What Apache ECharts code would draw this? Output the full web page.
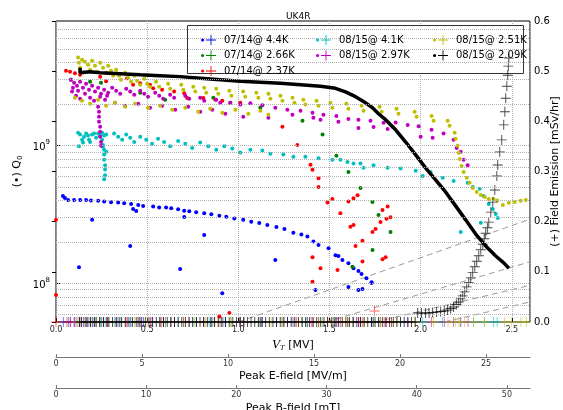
<!DOCTYPE html>
<html>
<head>
<meta charset="UTF-8">
<title>UK4R</title>
<script src="https://cdn.jsdelivr.net/npm/echarts@6/dist/echarts.min.js"></script>
<style>
  body { margin: 0; background: #fff; }
  #chart { width: 563px; height: 410px; }
</style>
</head>
<body>
<div id="chart"></div>
<script>
// Q0 values are written in units of 1e9, V_T in MV, field emission in mSv/hr
var names = ['07/14@ 4.4K', '07/14@ 2.66K', '07/14@ 2.37K', '08/15@ 4.1K', '08/15@ 2.97K', '08/15@ 2.51K', '08/15@ 2.09K'];
var colors = ['#0000ff', '#008000', '#ff0000', '#00bfbf', '#bf00bf', '#bfbf00', '#000000'];

var blueQ = [[0.038,0.431],[0.049,0.417],[0.066,0.403],[0.099,0.403],[0.132,0.403],[0.165,0.403],[0.192,0.399],[0.231,0.397],
  [0.264,0.393],[0.302,0.388],[0.341,0.386],[0.374,0.381],[0.412,0.377],[0.451,0.371],[0.478,0.365],[0.533,0.361],[0.566,0.355],
  [0.604,0.355],[0.632,0.351],[0.670,0.345],[0.703,0.337],[0.731,0.333],[0.769,0.328],[0.813,0.323],[0.852,0.317],[0.896,0.310],
  [0.934,0.305],[0.978,0.296],[1.027,0.289],[1.071,0.280],[1.115,0.274],[1.159,0.265],[1.209,0.256],[1.253,0.248],[1.302,0.233],
  [1.346,0.226],[1.379,0.219],[1.412,0.201],[1.440,0.190],[1.495,0.180],[1.533,0.160],[1.549,0.158],[1.571,0.148],[1.604,0.140],
  [1.632,0.129],[1.659,0.123],[1.676,0.117],[1.703,0.109],[1.731,0.102],
  [0.198,0.289],[0.126,0.131],[0.407,0.187],[0.423,0.346],[0.440,0.335],[0.703,0.303],[0.813,0.224],[0.681,0.127],[0.912,0.085],
  [1.203,0.148],[1.423,0.0895],[1.604,0.0942],[1.659,0.0895],[1.681,0.091],[1.731,0.1007]];

var greenQ = [[0.082,3.00],[0.187,2.90],[0.247,2.85],[0.462,2.41],[0.599,2.15],[0.863,2.22],[0.956,2.04],[1.121,1.89],
  [1.352,1.51],[1.462,1.20],[1.538,0.842],[1.604,0.644],[1.670,0.493],[1.736,0.390],[1.769,0.314],[1.835,0.236],[1.736,0.175],[1.626,0.132]];

var redQ = [[0.0,0.289],[0.0,0.0823],[0.055,3.49],[0.077,3.43],[0.104,3.35],[0.132,3.26],[0.242,3.15],[0.275,2.92],[0.390,3.07],
  [0.423,2.76],[0.462,2.83],[0.516,2.76],[0.533,2.60],[0.582,2.54],[0.648,2.46],[0.703,2.39],[0.720,2.21],[0.808,2.21],[0.874,2.15],
  [0.912,2.11],[1.011,2.04],[1.242,1.37],[1.324,1.01],[1.396,0.724],[1.407,0.666],[1.440,0.580],[1.440,0.500],[1.489,0.387],
  [1.516,0.410],[1.560,0.323],[1.604,0.392],[1.632,0.415],[1.654,0.435],[1.615,0.258],[1.632,0.265],[1.643,0.187],[1.681,0.204],
  [1.681,0.144],[1.736,0.236],[1.753,0.248],[1.780,0.279],[1.813,0.294],[1.835,0.302],[1.791,0.341],[1.819,0.361],[1.791,0.150],
  [1.808,0.155],[1.407,0.155],[1.451,0.129],[1.407,0.103],[1.544,0.125],[0.896,0.0575],[0.951,0.061]];

var cyanQ = [[0.121,1.24],[0.132,1.20],[0.143,1.10],[0.154,1.16],[0.165,1.22],[0.176,1.18],[0.187,1.06],[0.198,1.20],[0.209,1.22],
  [0.220,1.14],[0.231,1.22],[0.242,1.18],[0.253,1.24],[0.264,1.18],[0.275,1.20],[0.253,1.10],[0.258,1.01],[0.264,0.93],[0.264,0.86],
  [0.264,0.79],[0.269,0.72],[0.269,0.67],[0.269,0.61],[0.264,0.57],[0.258,0.98],[0.275,0.90],[0.126,0.99],[0.148,1.05],[0.181,1.10],
  [0.319,1.22],[0.341,1.16],[0.363,1.10],[0.385,1.20],[0.407,1.14],[0.429,1.06],[0.462,1.16],[0.495,1.10],[0.527,1.03],[0.560,1.12],
  [0.593,1.06],[0.626,0.99],[0.670,1.08],[0.709,1.03],[0.747,0.96],[0.791,1.05],[0.835,0.99],[0.879,0.93],[0.923,0.99],[0.967,0.95],
  [1.011,0.89],[1.066,0.93],[1.132,0.92],[1.176,0.87],[1.247,0.86],[1.302,0.83],[1.368,0.83],[1.440,0.81],[1.516,0.79],[1.560,0.79],
  [1.599,0.76],[1.632,0.74],[1.670,0.74],[1.687,0.69],[1.742,0.72],[1.819,0.69],[1.890,0.68],[1.973,0.655],[2.011,0.60],[2.055,0.644],
  [2.121,0.583],[2.181,0.554],[2.258,0.536],[2.286,0.50],[2.324,0.485],[2.346,0.431],[2.374,0.377],[2.396,0.347],[2.412,0.319],
  [2.423,0.298],[2.330,0.275],[2.220,0.236]];

var magentaQ = [[0.082,3.00],[0.099,2.85],[0.115,2.71],[0.132,2.90],[0.148,2.62],[0.165,2.81],[0.181,2.54],[0.198,2.71],[0.214,2.46],
  [0.231,2.62],[0.247,2.37],[0.264,2.54],[0.280,2.30],[0.088,2.46],[0.110,2.30],[0.132,2.18],[0.159,2.37],[0.187,2.22],[0.209,2.11],
  [0.242,2.26],[0.269,2.15],[0.286,2.41],[0.093,2.62],[0.121,2.50],
  [0.231,1.91],[0.236,1.76],[0.236,1.62],[0.236,1.49],[0.242,1.37],[0.242,1.26],[0.242,1.16],[0.247,1.06],[0.247,0.995],
  [0.308,2.62],[0.330,2.50],[0.352,2.37],[0.385,2.58],[0.407,2.46],[0.429,2.33],[0.462,2.50],[0.484,2.37],[0.505,2.26],[0.544,2.41],
  [0.566,2.30],[0.588,2.18],[0.626,2.33],[0.648,2.22],[0.709,2.30],[0.731,2.18],[0.791,2.22],[0.813,2.11],[0.879,2.15],[0.901,2.04],
  [0.956,2.04],[1.011,1.98],[1.066,2.03],[1.132,1.96],[1.203,1.88],[1.269,1.82],[1.341,1.79],[1.407,1.73],[1.467,1.67],[1.538,1.64],
  [1.604,1.56],[1.659,1.54],[1.725,1.51],[1.797,1.46],[1.863,1.47],[1.929,1.41],[1.989,1.38],[2.060,1.30],[2.126,1.22],[2.181,1.10],
  [2.198,0.96],[2.220,0.90],[2.236,0.79],[2.258,0.72],
  [0.324,2.04],[0.379,1.94],[0.451,2.01],[0.516,1.88],[0.582,1.94],[0.654,1.82],[0.725,1.91],[0.791,1.76],[0.857,1.82],[0.929,1.70],
  [1.027,1.62],[1.165,1.59],[1.297,1.67],[1.412,1.59],[1.451,1.54],[1.549,1.49],[1.659,1.34],[1.742,1.36],[1.819,1.32],[1.846,1.37],
  [2.000,1.16],[2.066,1.14]];

var yellowQ = [[0.121,4.34],[0.126,3.99],[0.132,3.67],[0.143,4.19],[0.159,4.05],[0.176,3.86],[0.187,3.55],[0.198,4.12],[0.214,3.79],
  [0.225,3.43],[0.242,3.99],[0.258,3.67],[0.275,3.37],[0.286,3.79],[0.302,3.49],[0.313,3.21],[0.330,3.55],[0.346,3.21],[0.357,3.00],
  [0.379,3.37],[0.396,3.10],[0.412,2.90],[0.429,3.21],[0.445,2.95],[0.462,2.76],[0.484,3.05],[0.500,2.81],[0.516,2.67],[0.549,2.90],
  [0.566,2.67],[0.615,2.81],[0.626,2.58],[0.687,2.76],[0.698,2.54],[0.753,2.67],[0.764,2.46],[0.813,2.62],[0.824,2.41],[0.879,2.58],
  [0.890,2.37],[0.951,2.50],[0.962,2.30],[1.027,2.46],[1.038,2.26],[1.099,2.41],[1.110,2.22],[1.165,2.37],[1.176,2.18],[1.231,2.30],
  [1.242,2.11],[1.297,2.22],[1.308,2.04],[1.357,2.15],[1.368,1.98],[1.429,2.11],[1.440,1.94],[1.505,2.04],[1.516,1.88],[1.593,2.01],
  [1.604,1.85],[1.676,1.94],[1.687,1.79],[1.775,1.91],[1.786,1.76],[1.868,1.85],[1.879,1.70],[1.967,1.76],[1.978,1.62],[2.060,1.64],
  [2.071,1.51],[2.148,1.51],[2.159,1.39],[2.187,1.24],[2.192,1.12],[2.203,0.995],[2.209,0.885],[2.214,0.80],[2.225,0.71],[2.236,0.644],
  [2.253,0.583],[2.269,0.536],[2.286,0.493],[2.308,0.461],[2.330,0.438],[2.352,0.424],[2.374,0.41],[2.40,0.41],[2.42,0.40],
  [2.451,0.371],[2.484,0.384],[2.516,0.390],[2.549,0.397],[2.577,0.403],
  [0.104,2.22],[0.143,2.11],[0.187,2.01],[0.231,2.15],[0.275,1.94],[0.324,2.04],[0.379,1.91],[0.434,2.01],[0.505,1.88],[0.571,1.94],
  [0.637,1.82],[0.709,1.88],[0.780,1.76],[0.846,1.85],[0.912,1.73],[0.984,1.82],[1.055,1.70],[1.121,1.79],[1.165,1.67]];

var blackQ = [[0.132,3.66],[0.132,3.37],[0.187,3.43],[0.242,3.37],[0.352,3.32],[0.462,3.26],[0.571,3.21],[0.681,3.16],[0.791,3.08],
  [0.901,3.00],[1.011,2.92],[1.121,2.88],[1.231,2.83],[1.341,2.76],[1.451,2.69],[1.533,2.60],[1.588,2.45],[1.643,2.26],[1.698,2.04],
  [1.736,1.88],[1.769,1.70],[1.808,1.54],[1.863,1.30],[1.918,1.06],[1.973,0.855],[2.027,0.688],[2.082,0.564],[2.137,0.461],
  [2.192,0.365],[2.247,0.289],[2.302,0.228],[2.357,0.187],[2.412,0.158],[2.456,0.141],[2.484,0.129]];

// field emission readings (right axis)
var blueFE = [[0.04,0],[0.07,0],[0.10,0],[0.13,0],[0.17,0],[0.20,0],[0.26,0],[0.34,0],[0.41,0],[0.48,0],[0.57,0],[0.63,0],[0.70,0],
  [0.77,0],[0.85,0],[0.93,0],[1.03,0],[1.12,0],[1.21,0],[1.30,0],[1.38,0],[1.44,0],[1.53,0],[1.60,0],[1.66,0],[1.73,0]];
var greenFE = [[0.08,0],[0.19,0],[0.25,0],[0.46,0],[0.60,0],[0.86,0],[0.96,0],[1.12,0],[1.35,0],[1.46,0],[1.54,0],[1.60,0],[1.67,0],
  [1.74,0],[1.77,0],[1.84,0]];
var redFE = [[0.0,0],[0.06,0],[0.10,0],[0.13,0],[0.24,0],[0.28,0],[0.39,0],[0.46,0],[0.52,0],[0.58,0],[0.65,0],[0.70,0],[0.81,0],
  [0.87,0],[0.91,0],[1.01,0],[1.24,0],[1.32,0],[1.40,0],[1.44,0],[1.49,0],[1.52,0],[1.56,0],[1.60,0],[1.63,0],[1.66,0],[1.68,0],
  [1.74,0],[1.78,0],[1.81,0],[1.84,0],[1.747,0.022]];
var cyanFE = [[0.12,0],[0.15,0],[0.19,0],[0.22,0],[0.25,0],[0.27,0],[0.32,0],[0.36,0],[0.41,0],[0.46,0],[0.53,0],[0.59,0],[0.67,0],
  [0.75,0],[0.84,0],[0.92,0],[1.01,0],[1.13,0],[1.25,0],[1.37,0],[1.52,0],[1.63,0],[1.74,0],[1.89,0],[2.01,0],[2.12,0],[2.22,0],
  [2.29,0],[2.35,0],[2.40,0],[2.42,0]];
var magentaFE = [[0.08,0],[0.11,0],[0.15,0],[0.18,0],[0.21,0],[0.24,0],[0.28,0],[0.33,0],[0.39,0],[0.46,0],[0.52,0],[0.59,0],[0.65,0],
  [0.73,0],[0.81,0],[0.90,0],[1.01,0],[1.13,0],[1.27,0],[1.41,0],[1.54,0],[1.66,0],[1.80,0],[1.93,0],[2.06,0],[2.13,0],[2.18,0],
  [2.22,0],[2.26,0]];
var yellowFE = [[0.12,0],[0.14,0],[0.18,0],[0.21,0],[0.24,0],[0.29,0],[0.33,0],[0.38,0],[0.43,0],[0.50,0],[0.57,0],[0.63,0],[0.70,0],
  [0.76,0],[0.82,0],[0.89,0],[0.96,0],[1.03,0],[1.11,0],[1.18,0],[1.24,0],[1.31,0],[1.37,0],[1.44,0],[1.52,0],[1.60,0],[1.69,0],
  [1.78,0],[1.87,0],[1.97,0],[2.07,0],[2.15,0],[2.19,0],[2.21,0],[2.24,0],[2.29,0],[2.35,0],[2.46,0],[2.50,0],[2.55,0],[2.58,0]];
var blackFE = [[0.13,0],[0.14,0],[0.16,0],[0.17,0],[0.19,0],[0.21,0],[0.22,0],[0.24,0],[0.26,0],[0.28,0],[0.29,0],[0.31,0],[0.33,0],
  [0.35,0],[0.36,0],[0.38,0],[0.40,0],[0.42,0],[0.44,0],[0.45,0],[0.47,0],[0.49,0],[0.51,0],[0.53,0],[0.55,0],[0.57,0],[0.59,0],
  [0.61,0],[0.63,0],[0.65,0],[0.67,0],[0.69,0],[0.71,0],[0.73,0],[0.75,0],[0.77,0],[0.79,0],[0.81,0],[0.83,0],[0.85,0],[0.87,0],
  [0.89,0],[0.91,0],[0.93,0],[0.95,0],[0.97,0],[0.99,0],[1.01,0],[1.03,0],[1.05,0],[1.07,0],[1.09,0],[1.11,0],[1.13,0],[1.15,0],
  [1.17,0],[1.19,0],[1.21,0],[1.23,0],[1.25,0],[1.27,0],[1.29,0],[1.31,0],[1.33,0],[1.35,0],[1.37,0],[1.39,0],[1.41,0],[1.43,0],
  [1.45,0],[1.47,0],[1.49,0],[1.51,0],[1.53,0],[1.55,0],[1.57,0],[1.59,0],[1.61,0],[1.63,0],[1.65,0],[1.67,0],[1.69,0],[1.71,0],
  [1.73,0],[1.75,0],[1.77,0],[1.79,0],[1.81,0],[1.83,0],[1.85,0],[1.87,0],[1.89,0],[1.91,0],[1.93,0],[1.95,0],[1.97,0],
  [1.984,0.018],[2.005,0.018],[2.027,0.018],[2.046,0.018],[2.066,0.019],[2.088,0.020],[2.110,0.021],[2.130,0.022],[2.148,0.024],
  [2.165,0.027],[2.181,0.030],[2.196,0.035],[2.209,0.040],[2.220,0.046],[2.231,0.052],[2.242,0.060],[2.253,0.070],
  [2.264,0.079],[2.275,0.088],[2.286,0.099],[2.297,0.110],[2.308,0.121],[2.319,0.132],[2.330,0.144],[2.341,0.155],[2.349,0.166],
  [2.357,0.177],[2.366,0.188],[2.374,0.199],[2.385,0.219],[2.396,0.239],[2.407,0.263],
  [2.418,0.291],[2.423,0.313],[2.434,0.339],[2.445,0.363],[2.456,0.393],[2.462,0.419],[2.467,0.446],[2.473,0.470],[2.478,0.492],
  [2.481,0.510],[2.484,0.526]];

// grey dashed guide lines on the field emission axis
var guide1 = [[1.00,0],[2.6,0.205]];
var guide2 = [[1.48,0],[2.6,0.120]];
var guide3 = [[1.75,0],[2.6,0.073]];
var guide4 = [[2.13,0],[2.6,0.040]];

// log grid positions of the Q0 axis
var gridQ = [6e7,7e7,8e7,9e7,1e8,2e8,3e8,4e8,5e8,6e8,7e8,8e8,9e8,1e9,2e9,3e9,4e9,5e9,6e9,7e9];

var qSets = [blueQ, greenQ, redQ, cyanQ, magentaQ, yellowQ, blackQ];
var feSets = [blueFE, greenFE, redFE, cyanFE, magentaFE, yellowFE, blackFE];
var guides = [guide1, guide2, guide3, guide4];

var plusPath = 'path://M0,4.55L10,4.55L10,5.45L0,5.45Z M4.55,0L5.45,0L5.45,10L4.55,10Z';
var legendIcon = 'path://M0,5A1.6,1.6 0 1,1 3.2,5A1.6,1.6 0 1,1 0,5Z M5,4.55L15,4.55L15,5.45L5,5.45Z M9.55,0L10.45,0L10.45,10L9.55,10Z';

var chart = echarts.init(document.getElementById('chart'));

var series = [];
series.push({
    type: 'scatter', data: [], silent: true, z: 1,
    markLine: {
        silent: true, symbol: 'none', animation: false,
        label: {show: false},
        lineStyle: {color: '#b0b0b0', type: 'dotted', width: 1},
        data: gridQ.map(function (v) { return {yAxis: v}; })
    }
});
guides.forEach(function (g) {
    series.push({
        type: 'line', xAxisIndex: 0, yAxisIndex: 1, data: g, symbol: 'none', silent: true, z: 1,
        lineStyle: {color: '#999', width: 1, type: [6, 4]}
    });
});
for (var i = 0; i < 7; i++) {
    var d = qSets[i].map(function (p) { return [p[0], p[1] * 1e9]; });
    if (i == 6) {
        series.push({
            name: names[i], type: 'line', yAxisIndex: 0, data: d, symbol: 'none', z: 3,
            itemStyle: {color: colors[i]},
            lineStyle: {color: colors[i], width: 3.5}
        });
    } else {
        series.push({
            name: names[i], type: 'scatter', yAxisIndex: 0, data: d, symbolSize: 4, z: 2,
            itemStyle: {color: colors[i], opacity: 1}
        });
    }
}
for (var i = 0; i < 7; i++) {
    series.push({
        name: names[i], type: 'scatter', yAxisIndex: 1, data: feSets[i], symbol: plusPath, symbolSize: 10, z: 4,
        itemStyle: {color: colors[i], opacity: i == 6 ? 0.75 : 0.6}
    });
}

var legendBase = {
    orient: 'vertical', top: 29, itemWidth: 15, itemHeight: 10, itemGap: 3.5, z: 6,
    icon: legendIcon, selectedMode: false,
    textStyle: {fontSize: 10, color: '#000', lineHeight: 12, padding: [0, 0, 0, 3], fontFamily: 'DejaVu Sans'}
};

var option = {
    animation: false,
    textStyle: {fontFamily: 'DejaVu Sans'},
    title: {
        text: 'UK4R', left: 281, top: 7,
        textStyle: {fontSize: 9, fontWeight: 'normal', color: '#000', fontFamily: 'DejaVu Sans'}
    },
    grid: {left: 56, right: 33, top: 21, bottom: 88, outerBoundsMode: 'none',
        show: true, borderColor: '#000', borderWidth: 1, backgroundColor: 'rgba(0,0,0,0)'},
    graphic: [{
        type: 'rect', z: 3, silent: true,
        shape: {x: 187.5, y: 25.5, width: 336, height: 48},
        style: {fill: '#fff', stroke: '#333', lineWidth: 1}
    }],
    legend: [
        Object.assign({}, legendBase, {left: 196, data: names.slice(0, 3)}),
        Object.assign({}, legendBase, {left: 311, data: names.slice(3, 5)}),
        Object.assign({}, legendBase, {left: 428, data: names.slice(5, 7)})
    ],
    xAxis: [{
        type: 'value', min: 0, max: 2.6, interval: 0.5, position: 'bottom',
        name: '{i|V}{s|T} [MV]', nameLocation: 'middle', nameGap: 17, nameMoveOverlap: false,
        nameTextStyle: {fontSize: 11, color: '#000', rich: {
            i: {fontSize: 11, fontStyle: 'italic', fontFamily: 'DejaVu Serif'},
            s: {fontSize: 7, fontStyle: 'italic', fontFamily: 'DejaVu Serif', verticalAlign: 'bottom', padding: [6, 0, 0, 0]}
        }},
        axisLine: {show: false, onZero: false},
        axisTick: {inside: true, length: 4, lineStyle: {color: '#000'}},
        axisLabel: {fontSize: 8, color: '#222', margin: 4, showMaxLabel: false,
            formatter: function (v) { return v.toFixed(1); }},
        splitLine: {show: true, lineStyle: {color: '#b0b0b0', type: 'dotted', width: 1}}
    }, {
        type: 'value', min: 0, max: 27.56, interval: 5, position: 'bottom', offset: 35,
        name: 'Peak E-field [MV/m]', nameLocation: 'middle', nameGap: 14, nameMoveOverlap: false,
        nameTextStyle: {fontSize: 11, color: '#000'},
        axisLine: {show: true, onZero: false, lineStyle: {color: '#777'}},
        axisTick: {inside: true, length: 3, lineStyle: {color: '#777'}},
        axisLabel: {fontSize: 8, color: '#333', margin: 3, showMaxLabel: false},
        splitLine: {show: false}
    }, {
        type: 'value', min: 0, max: 52.56, interval: 10, position: 'bottom', offset: 66,
        name: 'Peak B-field [mT]', nameLocation: 'middle', nameGap: 15, nameMoveOverlap: false,
        nameTextStyle: {fontSize: 11, color: '#000'},
        axisLine: {show: true, onZero: false, lineStyle: {color: '#777'}},
        axisTick: {inside: true, length: 3, lineStyle: {color: '#777'}},
        axisLabel: {fontSize: 8, color: '#333', margin: 3, showMaxLabel: false},
        splitLine: {show: false}
    }],
    yAxis: [{
        type: 'log', min: 5.25e7, max: 8e9, position: 'left',
        name: '(•) Q{s|0}', nameLocation: 'middle', nameGap: 32, nameMoveOverlap: false,
        nameTextStyle: {fontSize: 11, color: '#000', rich: {
            s: {fontSize: 7, verticalAlign: 'bottom', padding: [6, 0, 0, 0]}
        }},
        axisLine: {show: false},
        axisTick: {inside: true, length: 5, lineStyle: {color: '#000'}},
        axisLabel: {
            margin: 6, showMinLabel: false, showMaxLabel: false,
            formatter: function (v) { return '{b|10}{e|' + Math.round(Math.log10(v)) + '}'; },
            rich: {
                b: {fontSize: 10, color: '#000', verticalAlign: 'bottom', lineHeight: 14},
                e: {fontSize: 7, color: '#000', verticalAlign: 'top', lineHeight: 8}
            }
        },
        splitLine: {show: false}
    }, {
        type: 'value', min: 0, max: 0.6, interval: 0.1, position: 'right',
        name: '(+) Field Emission [mSv/hr]', nameLocation: 'middle', nameGap: 20, nameMoveOverlap: false,
        nameTextStyle: {fontSize: 11, color: '#000'},
        axisLine: {show: false},
        axisTick: {inside: true, length: 4, lineStyle: {color: '#000'}},
        axisLabel: {fontSize: 10, color: '#000', margin: 4,
            formatter: function (v) { return v.toFixed(1); }},
        splitLine: {show: false}
    }],
    series: series
};

chart.setOption(option);
</script>
</body>
</html>
